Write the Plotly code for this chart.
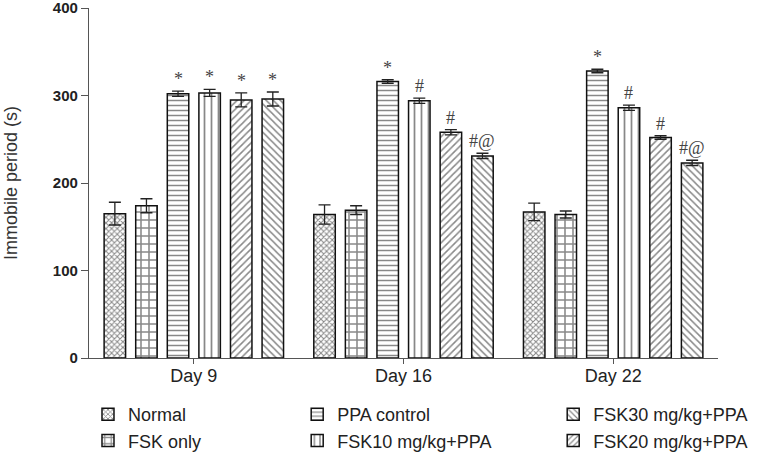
import plotly.graph_objects as go

days = ["Day 9", "Day 16", "Day 22"]
groups = ["Normal", "FSK only", "PPA control", "FSK10 mg/kg+PPA", "FSK20 mg/kg+PPA", "FSK30 mg/kg+PPA"]

normal = [165, 164, 167]
fsk_only = [174, 169, 164]
ppa_control = [302, 316, 328]
fsk10 = [303, 294, 286]
fsk20 = [295, 258, 252]
fsk30 = [296, 231, 223]

normal_err = [13, 11, 10]
fsk_only_err = [8, 5, 4]
ppa_control_err = [3, 2, 2]
fsk10_err = [4, 3, 3]
fsk20_err = [8, 3, 2]
fsk30_err = [8, 3, 3]

normal_sig = ["", "", ""]
fsk_only_sig = ["", "", ""]
ppa_control_sig = ["*", "*", "*"]
fsk10_sig = ["*", "#", "#"]
fsk20_sig = ["*", "#", "#"]
fsk30_sig = ["*", "#@", "#@"]

values = [normal, fsk_only, ppa_control, fsk10, fsk20, fsk30]
errors = [normal_err, fsk_only_err, ppa_control_err, fsk10_err, fsk20_err, fsk30_err]
sigs = [normal_sig, fsk_only_sig, ppa_control_sig, fsk10_sig, fsk20_sig, fsk30_sig]

patterns = [
    dict(shape="x", size=4, solidity=0.45),
    dict(shape="+", size=8, solidity=0.35),
    dict(shape="-", size=5, solidity=0.3),
    dict(shape="|", size=7, solidity=0.25),
    dict(shape="/", size=5, solidity=0.3),
    dict(shape="\\", size=5, solidity=0.3),
]
legend_ids = ["legend", "legend", "legend2", "legend2", "legend3", "legend3"]
legend_rank = [1, 2, 1, 2, 2, 1]

fig = go.Figure()
for i, g in enumerate(groups):
    fig.add_trace(go.Bar(
        name=g, x=days, y=values[i],
        error_y=dict(type="data", array=errors[i], color="#222", thickness=1.3, width=6),
        marker=dict(color="white", line=dict(color="#111", width=1.5),
                    pattern=dict(fgcolor="#111", bgcolor="white", **patterns[i])),
        legend=legend_ids[i], legendrank=legend_rank[i],
    ))

nb = len(groups)
bargap = 0.096
slot = (1 - bargap) / nb
for i in range(nb):
    for d in range(len(days)):
        if sigs[i][d]:
            fig.add_annotation(
                x=d + (i - (nb - 1) / 2) * slot, y=values[i][d] + errors[i][d],
                text=sigs[i][d], showarrow=False, yanchor="bottom", yshift=0,
                font=dict(family="Liberation Serif, Times New Roman, serif", size=18, color="#444"),
            )

legend_font = dict(family="Liberation Sans, Arial, sans-serif", size=18, color="#222")
common_leg = dict(orientation="v", yanchor="top", y=-0.1086, xanchor="left",
                  font=legend_font, bgcolor="rgba(0,0,0,0)", itemwidth=30,
                  tracegroupgap=0, traceorder="normal")

fig.update_layout(
    width=764, height=452,
    margin=dict(l=89, r=46, t=8, b=94, autoexpand=False),
    paper_bgcolor="white", plot_bgcolor="white",
    barmode="group", bargap=bargap, bargroupgap=0.32,
    font=dict(family="Liberation Sans, Arial, sans-serif", color="#222"),
    legend=dict(x=-0.0016, **common_leg),
    legend2=dict(x=0.331, **common_leg),
    legend3=dict(x=0.738, **common_leg),
    xaxis=dict(
        showline=True, linecolor="#555", linewidth=1.3,
        ticks="outside", ticklen=5, tickcolor="#555", ticklabelstandoff=-4,
        tickfont=dict(size=18, color="#222"), range=[-0.5, 2.5],
    ),
    yaxis=dict(
        range=[0, 400], tickvals=[0, 100, 200, 300, 400],
        showline=True, linecolor="#555", linewidth=1.3,
        ticks="outside", ticklen=7, tickcolor="#555", showgrid=False, zeroline=False,
        ticklabeloverflow="allow",
        tickfont=dict(size=15, color="#222", weight="bold"),
        title=dict(text="Immobile period (s)", font=dict(size=18, color="#333"), standoff=30),
    ),
)

fig.write_html("out.html", config={"displayModeBar": False},
               post_script="document.body.style.margin='0';")
